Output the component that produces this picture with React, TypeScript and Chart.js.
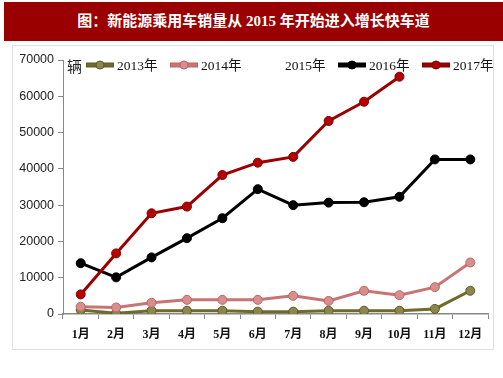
import React, { useEffect, useRef } from "react";
import { Chart, registerables } from "chart.js";

Chart.register(...registerables);

const TITLE = "图：新能源乘用车销量从 2015 年开始进入增长快车道";
const UNIT = "辆";
const months = ["1月", "2月", "3月", "4月", "5月", "6月", "7月", "8月", "9月", "10月", "11月", "12月"];
const seriesNames = ["2013年", "2014年", "2015年", "2016年", "2017年"];
const sales2013 = [1100, 200, 900, 900, 900, 650, 650, 900, 900, 900, 1400, 6400];
const sales2014 = [2000, 1800, 3100, 3900, 3900, 3900, 5000, 3600, 6400, 5200, 7400, 14200];
const sales2015: (number | null)[] = [null, null, null, null, null, null, null, null, null, null, null, null];
const sales2016 = [14000, 10100, 15600, 20900, 26400, 34400, 30000, 30700, 30800, 32300, 42600, 42600];
const sales2017 = [5400, 16700, 27750, 29600, 38300, 41700, 43300, 53200, 58500, 65400];
const yTicks = [0, 10000, 20000, 30000, 40000, 50000, 60000, 70000];

const lineColors = ["#6E6B2C", "#C87474", "rgba(0,0,0,0)", "#000000", "#9A0000"];
const pointColors = ["#8C874C", "#D98E8E", "rgba(0,0,0,0)", "#000000", "#B80000"];
const pointBorders = ["#5E5B22", "#B86666", "rgba(0,0,0,0)", "#000000", "#7A0000"];

const legendPlugin = {
  id: "customLegend",
  afterDraw(chart: any) {
    const ctx = chart.ctx;
    ctx.save();
    const y = 65;
    ctx.fillStyle = "#222";
    ctx.font = '15px "Noto Sans CJK SC"';
    ctx.textBaseline = "middle";
    ctx.textAlign = "left";
    ctx.fillText(UNIT, 67, y + 1);
    chart.data.datasets.forEach((ds: any, i: number) => {
      const x0 = 86 + i * 84;
      const col = ds.borderColor;
      if (col !== "rgba(0,0,0,0)") {
        ctx.strokeStyle = pointBorders[i];
        ctx.lineWidth = 5;
        ctx.beginPath();
        ctx.moveTo(x0, y);
        ctx.lineTo(x0 + 28, y);
        ctx.stroke();
        ctx.strokeStyle = col;
        ctx.lineWidth = 3;
        ctx.beginPath();
        ctx.moveTo(x0 + 1, y);
        ctx.lineTo(x0 + 27, y);
        ctx.stroke();
        ctx.fillStyle = ds.pointBackgroundColor;
        ctx.strokeStyle = ds.pointBorderColor;
        ctx.lineWidth = 1;
        ctx.beginPath();
        ctx.arc(x0 + 14, y, 4, 0, Math.PI * 2);
        ctx.fill();
        ctx.stroke();
      }
      ctx.fillStyle = "#111";
      ctx.font = '13.5px "Liberation Serif", "Noto Sans CJK SC"';
      ctx.fillText(ds.label, x0 + 31, y + 1);
    });
    ctx.restore();
  },
};

export default function App() {
  const ref = useRef<HTMLCanvasElement | null>(null);
  useEffect(() => {
    document.body.style.margin = "0";
    const seriesData = [sales2013, sales2014, sales2015, sales2016, sales2017];
    const chart = new Chart(ref.current as HTMLCanvasElement, {
      type: "line",
      data: {
        labels: months,
        datasets: seriesNames.map((name, i) => ({
          label: name,
          data: seriesData[i],
          borderColor: lineColors[i],
          backgroundColor: pointColors[i],
          pointBackgroundColor: pointColors[i],
          pointBorderColor: pointBorders[i],
          pointBorderWidth: 1,
          pointRadius: 4.5,
          borderWidth: 3,
          tension: 0,
          order: 5 - i,
        })),
      },
      options: {
        animation: false,
        responsive: false,
        layout: { padding: { left: 0, top: 60, right: 15, bottom: 0 } },
        plugins: { legend: { display: false }, tooltip: { enabled: false } },
        scales: {
          x: {
            offset: true,
            grid: { drawOnChartArea: false, drawTicks: true, tickLength: 5, color: "#888", offset: true },
            border: { color: "#888", width: 1.5 },
            ticks: {
              color: "#111",
              padding: 9,
              maxRotation: 0,
              autoSkip: false,
              font: { family: '"Liberation Serif", "Noto Sans CJK SC"', size: 12, weight: "bold" },
            },
            afterFit: (s: any) => {
              s.height = 64;
            },
          },
          y: {
            min: 0,
            max: 70000,
            afterBuildTicks: (s: any) => {
              s.ticks = yTicks.map((v) => ({ value: v }));
            },
            grid: { drawOnChartArea: false, drawTicks: true, tickLength: 5, color: "#888" },
            border: { color: "#888", width: 1 },
            ticks: {
              color: "#222",
              padding: 4,
              font: { family: '"Liberation Sans", Arial', size: 12.5 },
              callback: (v: any) => String(v),
            },
            afterFit: (s: any) => {
              s.width = 63;
            },
          },
        },
      },
      plugins: [legendPlugin],
    } as any);
    return () => chart.destroy();
  }, []);

  return (
    <div style={{ position: "relative", width: 503, height: 378, background: "#fff", overflow: "hidden" }}>
      <div
        style={{
          position: "absolute",
          left: 4,
          top: 2,
          width: 499,
          height: 39,
          background: "#9B0000",
          color: "#fff",
          fontFamily: '"Liberation Serif", "Noto Sans CJK SC"',
          fontWeight: "bold",
          fontSize: 15,
          lineHeight: "39px",
          textAlign: "center",
          whiteSpace: "nowrap",
        }}
      >
        {TITLE}
      </div>
      <div
        style={{
          position: "absolute",
          left: 12,
          top: 45,
          width: 480,
          height: 303,
          border: "1px solid #e0e0e0",
        }}
      />
      <canvas ref={ref} width={503} height={378} style={{ position: "absolute", left: 0, top: 0 }} />
    </div>
  );
}
